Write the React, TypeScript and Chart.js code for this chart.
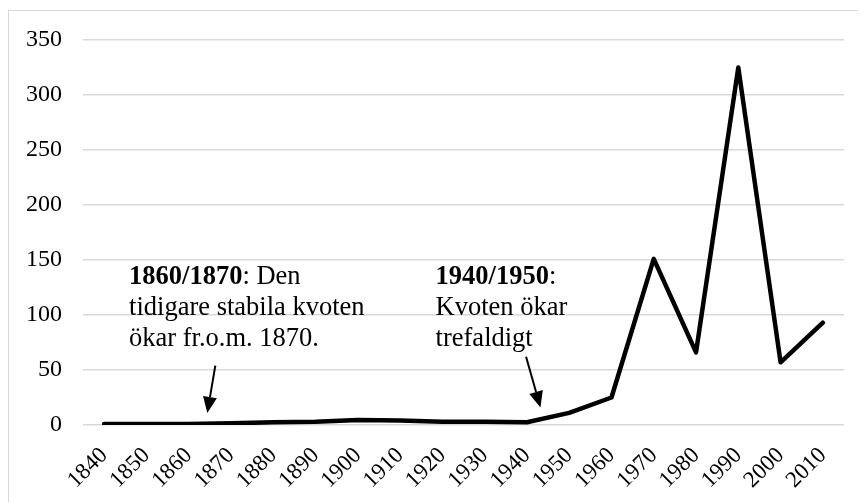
import React, { useEffect, useRef } from "react";
import { Chart, registerables } from "chart.js";

Chart.register(...registerables);

const years: string[] = [
  "1840", "1850", "1860", "1870", "1880", "1890", "1900", "1910", "1920",
  "1930", "1940", "1950", "1960", "1970", "1980", "1990", "2000", "2010",
];
const ratio: number[] = [1, 1, 1, 1.5, 2.5, 3, 4.5, 4, 3, 3, 2.5, 11, 25, 151, 66, 325, 57, 93];
const yTicks: number[] = [0, 50, 100, 150, 200, 250, 300, 350];

const note1Lines: string[][] = [["1860/1870", ": Den"], ["", "tidigare stabila kvoten"], ["", "ökar fr.o.m. 1870."]];
const note2Lines: string[][] = [["1940/1950", ":"], ["", "Kvoten ökar"], ["", "trefaldigt"]];
const note1Anchor: number[] = [0.59, 128];
const note2Anchor: number[] = [7.84, 128];
const arrow1: number[][] = [[2.63, 54], [2.44, 11]];
const arrow2: number[][] = [[9.98, 62], [10.32, 16]];

const SERIF = "'Liberation Serif', 'Times New Roman', serif";
const NOTE_SIZE = 26.5;
const LINE_H = 31;

const annotationPlugin = {
  id: "notes",
  afterDatasetsDraw(chart: any) {
    const { ctx, scales } = chart;
    const xs = scales.x;
    const ys = scales.y;
    ctx.save();
    ctx.fillStyle = "#000";
    ctx.textBaseline = "alphabetic";
    ctx.textAlign = "left";
    const drawNote = (lines: string[][], anchor: number[]) => {
      const x0 = xs.getPixelForValue(anchor[0]);
      const y0 = ys.getPixelForValue(anchor[1]);
      lines.forEach((ln, i) => {
        let x = x0;
        const y = y0 + i * LINE_H;
        if (ln[0]) {
          ctx.font = `bold ${NOTE_SIZE}px ${SERIF}`;
          ctx.fillText(ln[0], x, y);
          x += ctx.measureText(ln[0]).width;
        }
        ctx.font = `${NOTE_SIZE}px ${SERIF}`;
        ctx.fillText(ln[1], x, y);
      });
    };
    const drawArrow = (a: number[][]) => {
      const x1 = xs.getPixelForValue(a[0][0]);
      const y1 = ys.getPixelForValue(a[0][1]);
      const x2 = xs.getPixelForValue(a[1][0]);
      const y2 = ys.getPixelForValue(a[1][1]);
      const ang = Math.atan2(y2 - y1, x2 - x1);
      const head = 16;
      const half = 7;
      const bx = x2 - head * Math.cos(ang);
      const by = y2 - head * Math.sin(ang);
      ctx.strokeStyle = "#000";
      ctx.lineWidth = 2;
      ctx.beginPath();
      ctx.moveTo(x1, y1);
      ctx.lineTo(bx, by);
      ctx.stroke();
      ctx.beginPath();
      ctx.moveTo(x2, y2);
      ctx.lineTo(bx + half * Math.sin(ang), by - half * Math.cos(ang));
      ctx.lineTo(bx - half * Math.sin(ang), by + half * Math.cos(ang));
      ctx.closePath();
      ctx.fill();
    };
    drawNote(note1Lines, note1Anchor);
    drawNote(note2Lines, note2Anchor);
    drawArrow(arrow1);
    drawArrow(arrow2);
    ctx.restore();
  },
};

export default function App() {
  const ref = useRef<HTMLCanvasElement | null>(null);
  useEffect(() => {
    if (!ref.current) return;
    const chart = new Chart(ref.current, {
      type: "line",
      data: {
        labels: years,
        datasets: [
          {
            data: ratio,
            borderColor: "#000",
            backgroundColor: "#000",
            borderWidth: 4.5,
            pointRadius: 0,
            tension: 0,
            borderJoinStyle: "round",
            borderCapStyle: "round",
          },
        ],
      },
      options: {
        animation: false,
        responsive: false,
        maintainAspectRatio: false,
        layout: { padding: { left: 18, right: 22, top: 29, bottom: 0 } },
        plugins: { legend: { display: false }, tooltip: { enabled: false } },
        scales: {
          x: {
            offset: true,
            grid: { display: false, drawTicks: false },
            border: { display: false },
            ticks: {
              minRotation: 45,
              maxRotation: 45,
              padding: 17,
              color: "#000",
              font: { family: SERIF, size: 23 },
              autoSkip: false,
            },
            afterFit: (s: any) => {
              s.height = 77;
            },
          },
          y: {
            min: 0,
            max: 350,
            afterBuildTicks: (s: any) => {
              s.ticks = yTicks.map((v) => ({ value: v }));
            },
            grid: {
              color: "#d9d9d9",
              lineWidth: 1.5,
              drawTicks: true,
              tickLength: 14,
              tickColor: "rgba(0,0,0,0)",
            },
            border: { display: false },
            ticks: {
              padding: 7,
              color: "#000",
              font: { family: SERIF, size: 24 },
            },
            afterFit: (s: any) => {
              s.width = 56;
            },
          },
        },
      },
      plugins: [annotationPlugin],
    });
    return () => chart.destroy();
  }, []);
  return (
    <div
      style={{
        marginTop: 2,
        borderTop: "1px solid #d9d9d9",
        borderLeft: "1px solid #d9d9d9",
        width: 857,
        height: 491,
      }}
    >
      <canvas ref={ref} width={857} height={491} style={{ display: "block" }} />
    </div>
  );
}
